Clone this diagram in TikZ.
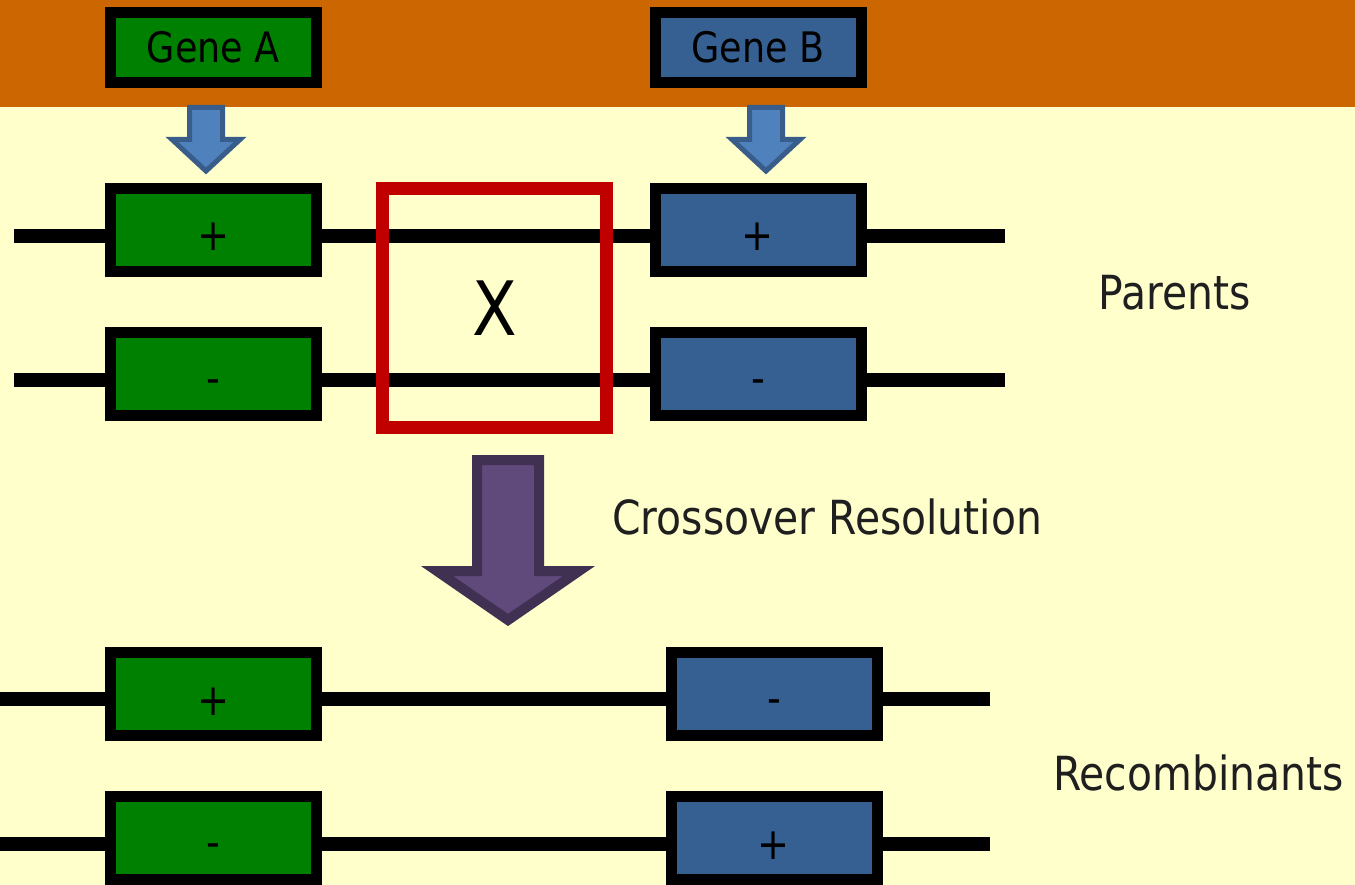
\documentclass[tikz,border=0pt]{standalone}
\usepackage{fontspec}
\setmainfont{DejaVu Sans}[FakeStretch=0.87]
\definecolor{bgyellow}{HTML}{FFFFCC}
\definecolor{bandorange}{HTML}{CC6600}
\definecolor{genegreen}{HTML}{008000}
\definecolor{geneblue}{HTML}{376092}
\definecolor{arrowblue}{HTML}{4F81BD}
\definecolor{arrowblueline}{HTML}{385D8A}
\definecolor{arrowpurple}{HTML}{604A7B}
\definecolor{arrowpurpleline}{HTML}{403152}
\definecolor{crossred}{HTML}{C00000}
\definecolor{labelgray}{HTML}{1F1F1F}
\newcommand{\plussign}{\raisebox{-21pt}[0pt][0pt]{+}}
\newcommand{\minussign}{\raisebox{-19pt}[0pt][0pt]{-}}
\begin{document}
\begin{tikzpicture}[x=1pt,y=-1pt,
  genebox/.style={draw=black, line width=11pt, minimum width=206pt, minimum height=83pt, inner sep=0pt, font=\fontsize{44}{50}\selectfont},
  gbox/.style={genebox, fill=genegreen},
  bbox/.style={genebox, fill=geneblue},
  headbox/.style={minimum height=70pt, font=\fontsize{42}{50}\selectfont},
  chrom/.style={draw=black, line width=14pt},
  biglabel/.style={font=\fontsize{47}{56}\selectfont, text=labelgray, anchor=base west, inner sep=0pt},
  bluearrow/.style={fill=arrowblue, draw=arrowblueline, line width=5pt, line join=miter},
  purplearrow/.style={fill=arrowpurple, draw=arrowpurpleline, line width=10pt, line join=miter}
]
\useasboundingbox (0,0) rectangle (1355,885);
\fill[bgyellow] (0,0) rectangle (1355,885);
\fill[bandorange] (0,0) rectangle (1355,107);

% gene labels
\node[gbox, headbox] (geneA) at (213.5,47.5) {Gene A};
\node[bbox, headbox] (geneB) at (758,47.5) {Gene B};

% small arrows
\draw[bluearrow] (189.5,107.5) -- (222.5,107.5) -- (222.5,139.5) -- (240,139.5) -- (206,171) -- (172,139.5) -- (189.5,139.5) -- cycle;
\draw[bluearrow] (749.5,107.5) -- (782.5,107.5) -- (782.5,139.5) -- (800,139.5) -- (766,171) -- (732,139.5) -- (749.5,139.5) -- cycle;

% chromosome lines
\coordinate (p1L) at (14,236);   \coordinate (p1R) at (1005,236);
\coordinate (p2L) at (14,380);   \coordinate (p2R) at (1005,380);
\coordinate (r1L) at (0,699);    \coordinate (r1R) at (990,699);
\coordinate (r2L) at (0,844);    \coordinate (r2R) at (990,844);
\draw[chrom] (p1L) -- (p1R);
\draw[chrom] (p2L) -- (p2R);
\draw[chrom] (r1L) -- (r1R);
\draw[chrom] (r2L) -- (r2R);

% parents
\node[gbox] (pA1) at (213.5,230) {\plussign};
\node[bbox] (pB1) at (758,230) {\plussign};
\node[gbox] (pA2) at (213.5,374) {\minussign};
\node[bbox] (pB2) at (758,374) {\minussign};

% crossover box
\node[draw=crossred, line width=13pt, minimum width=224pt, minimum height=239pt, inner sep=0pt, font=\fontsize{75}{80}\selectfont] (xbox) at (494.5,308) {X};

% recombinants
\node[gbox] (rA1) at (213.5,694) {\plussign};
\node[bbox] (rB1) at (774,694) {\minussign};
\node[gbox] (rA2) at (213.5,838) {\minussign};
\node[bbox] (rB2) at (774,838) {\plussign};

% big arrow
\draw[purplearrow] (477,460) -- (539,460) -- (539,571) -- (579,571) -- (508,620) -- (437,571) -- (477,571) -- cycle;

% labels
\node[biglabel] (parents) at (1098,310) {Parents};
\node[biglabel] (cross) at (612,534) {Crossover Resolution};
\node[biglabel] (recomb) at (1053,790) {Recombinants};
\end{tikzpicture}
\end{document}
